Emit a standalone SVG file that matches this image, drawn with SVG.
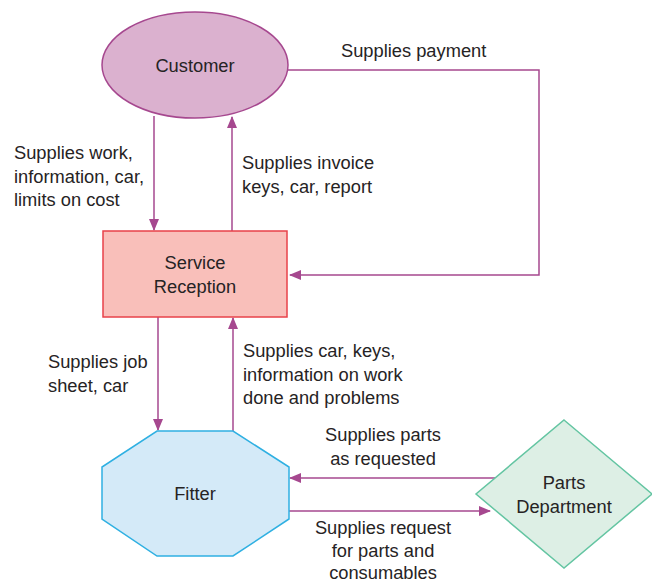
<svg xmlns="http://www.w3.org/2000/svg" width="652" height="583" viewBox="0 0 652 583">
<style>
text{font-family:"Liberation Sans",Arial,sans-serif;font-size:18.3px;fill:#262324}
.c{text-anchor:middle}
.ln{fill:none;stroke:#a6488f;stroke-width:1.5}
</style>
<defs>
<marker id="ah" markerWidth="12" markerHeight="10" refX="11" refY="5" orient="auto" markerUnits="userSpaceOnUse">
<path d="M0,0 L12,5 L0,10 Z" fill="#a6488f"/>
</marker>
</defs>
<rect width="652" height="583" fill="#ffffff"/>
<g id="connectors">
<line class="ln" x1="154" y1="116" x2="154" y2="230" marker-end="url(#ah)"/>
<line class="ln" x1="232" y1="231" x2="232" y2="117" marker-end="url(#ah)"/>
<polyline class="ln" points="287,70 539,70 539,275 290,275" marker-end="url(#ah)"/>
<line class="ln" x1="158" y1="317" x2="158" y2="430" marker-end="url(#ah)"/>
<line class="ln" x1="233" y1="431" x2="233" y2="318" marker-end="url(#ah)"/>
<line class="ln" x1="497" y1="478" x2="290" y2="478" marker-end="url(#ah)"/>
<line class="ln" x1="289" y1="511" x2="490" y2="511" marker-end="url(#ah)"/>
</g>
<g id="labels">
<text x="14" y="159">Supplies work,</text>
<text x="14" y="182.5">information, car,</text>
<text x="14" y="206">limits on cost</text>
<text x="242" y="169">Supplies invoice</text>
<text x="242" y="192.5">keys, car, report</text>
<text x="341" y="57">Supplies payment</text>
<text x="48" y="368">Supplies job</text>
<text x="48" y="391.5">sheet, car</text>
<text x="243" y="357">Supplies car, keys,</text>
<text x="243" y="380.5">information on work</text>
<text x="243" y="404">done and problems</text>
<text class="c" x="383" y="441">Supplies parts</text>
<text class="c" x="383" y="464.5">as requested</text>
<text class="c" x="383" y="533.5">Supplies request</text>
<text class="c" x="383" y="556.5">for parts and</text>
<text class="c" x="383" y="578.5">consumables</text>
</g>
<g id="customer">
<ellipse cx="195" cy="65" rx="93" ry="53" fill="#dbb1cf" stroke="#a6488f" stroke-width="1.5"/>
<text class="c" x="195" y="72">Customer</text>
</g>
<g id="service-reception">
<rect x="103" y="231" width="184" height="86" fill="#f9bfba" stroke="#e8424a" stroke-width="1.5"/>
<text class="c" x="195" y="269">Service</text>
<text class="c" x="195" y="293">Reception</text>
</g>
<g id="fitter">
<polygon points="157,431 233,431 289,467 289,519 233,556 157,556 102,519 102,467" fill="#d4eaf8" stroke="#2fb0e2" stroke-width="1.5"/>
<text class="c" x="195" y="500">Fitter</text>
</g>
<g id="parts-department">
<polygon points="564,420 652,494 564,568 476,494" fill="#ddefe5" stroke="#64c5a2" stroke-width="1.5"/>
<text class="c" x="564" y="489">Parts</text>
<text class="c" x="564" y="513">Department</text>
</g>
</svg>
